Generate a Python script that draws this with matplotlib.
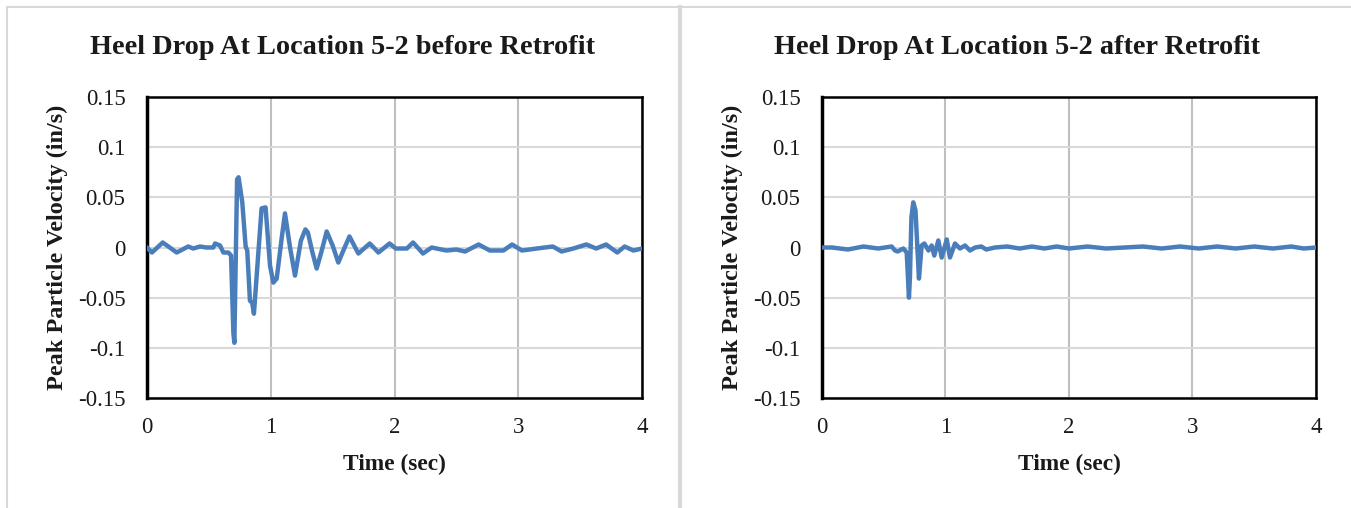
import matplotlib
matplotlib.use("Agg")
import matplotlib.pyplot as plt
from matplotlib.lines import Line2D

# ---------------- data ----------------
t_before = [0.00, 0.04, 0.127, 0.24, 0.333, 0.374, 0.428, 0.48, 0.536, 0.55, 0.59,
            0.617, 0.657, 0.679, 0.698, 0.706, 0.716, 0.728, 0.740, 0.770, 0.797, 0.81,
            0.832, 0.85, 0.864, 0.894, 0.926, 0.958, 0.994, 1.021, 1.048, 1.088, 1.115,
            1.156, 1.196, 1.244, 1.280, 1.30, 1.335, 1.371, 1.41, 1.452, 1.50, 1.546,
            1.59, 1.636, 1.708, 1.80, 1.87, 1.96, 2.01, 2.10, 2.15, 2.23, 2.30, 2.42,
            2.50, 2.57, 2.68, 2.77, 2.88, 2.95, 3.03, 3.15, 3.28, 3.35, 3.445, 3.55,
            3.63, 3.71, 3.80, 3.86, 3.93, 4.00]
v_before = [0.000, -0.005, 0.005, -0.005, 0.001, -0.001, 0.001, 0.000, 0.000, 0.004, 0.002,
            -0.005, -0.005, -0.008, -0.085, -0.095, -0.020, 0.068, 0.070, 0.045, 0.001, -0.003,
            -0.053, -0.055, -0.066, -0.015, 0.039, 0.040, -0.018, -0.035, -0.031, 0.009, 0.034,
            0.000, -0.028, 0.007, 0.018, 0.015, -0.004, -0.021, -0.004, 0.016, 0.002, -0.015,
            -0.002, 0.011, -0.006, 0.004, -0.005, 0.004, -0.001, -0.001, 0.005, -0.006, 0.000, -0.003,
            -0.002, -0.004, 0.003, -0.003, -0.003, 0.003, -0.003, -0.001, 0.001, -0.004, -0.001, 0.003,
            -0.001, 0.003, -0.005, 0.001, -0.003, -0.001]

t_after = [0.00, 0.08, 0.21, 0.335, 0.456, 0.564, 0.591, 0.613, 0.658, 0.686, 0.704,
           0.712, 0.724, 0.739, 0.757, 0.785, 0.807, 0.829, 0.862, 0.888, 0.909, 0.942,
           0.969, 1.010, 1.036, 1.077, 1.117, 1.158, 1.198, 1.24, 1.29, 1.33, 1.40,
           1.50, 1.60, 1.70, 1.80, 1.90, 2.00, 2.15, 2.30, 2.45, 2.60, 2.75, 2.90,
           3.05, 3.20, 3.35, 3.50, 3.65, 3.80, 3.90, 4.00]
v_after = [0.000, 0.000, -0.002, 0.001, -0.001, 0.001, -0.003, -0.004, -0.001, -0.005, -0.050,
           -0.030, 0.030, 0.045, 0.037, -0.031, 0.002, 0.004, -0.003, 0.002, -0.008, 0.007,
           -0.010, 0.008, -0.010, 0.004, -0.001, 0.002, -0.003, 0.000, 0.001, -0.002, 0.000,
           0.001, -0.001, 0.001, -0.001, 0.001, -0.001, 0.001, -0.001, 0.000, 0.001, -0.001, 0.001,
           -0.001, 0.001, -0.001, 0.001, -0.001, 0.001, -0.001, 0.000]

titles = ["Heel Drop At Location 5-2 before Retrofit",
          "Heel Drop At Location 5-2 after Retrofit"]
x_ticks = [0, 1, 2, 3, 4]
y_ticks = [-0.15, -0.1, -0.05, 0, 0.05, 0.1, 0.15]
y_tick_labels = ["-0.15", "-0.1", "-0.05", "0", "0.05", "0.1", "0.15"]
xlabel = "Time (sec)"
ylabel = "Peak Particle Velocity (in/s)"

# ---------------- figure ----------------
W, H = 1351, 508
fig = plt.figure(figsize=(W / 100, H / 100), dpi=100)
fig.patch.set_facecolor("white")

def px_x(x):
    return x / W

def px_y(y):
    return 1 - y / H

# panel borders
border = "#d9d9d9"
fig.add_artist(Line2D([px_x(7), px_x(7)], [0, px_y(7)], color=border, lw=1.5))
fig.add_artist(Line2D([px_x(7), 1], [px_y(7), px_y(7)], color=border, lw=1.5))
fig.add_artist(Line2D([px_x(680), px_x(680)], [0, px_y(7)], color=border, lw=3))

serif = ["Liberation Serif", "DejaVu Serif"]
txt = "#1a1a1a"

series = [(t_before, v_before), (t_after, v_after)]
lefts = [147, 822]
rights = [642, 1316]
top, bottom = 97, 398
title_centers = [343, 1017]

for i, (t, v) in enumerate(series):
    l, r = lefts[i], rights[i]
    ax = fig.add_axes([px_x(l), px_y(bottom), (r - l) / W, (bottom - top) / H])
    ax.plot(t, v, color="#4a7ebb", lw=3.2, solid_joinstyle="round",
            solid_capstyle="round", zorder=3)
    ax.set_xlim(0, 4)
    ax.set_ylim(-0.15, 0.15)
    ax.set_xticks(x_ticks)
    ax.set_yticks(y_ticks)
    ax.set_yticklabels(y_tick_labels)
    ax.tick_params(length=0)
    ax.tick_params(axis="x", pad=14)
    ax.tick_params(axis="y", pad=15.5)
    for lab in ax.get_xticklabels() + ax.get_yticklabels():
        lab.set_fontfamily(serif)
        lab.set_fontsize(16.5)
        lab.set_color(txt)
    ax.grid(True, axis="y", color="#d9d9d9", lw=1.5)
    ax.grid(True, axis="x", color="#bfbfbf", lw=1.5)
    ax.set_axisbelow(True)
    for name, sp in ax.spines.items():
        sp.set_color("black")
        sp.set_linewidth(1.8)
    ax.spines["left"].set_linewidth(2.5)
    ax.set_xlabel(xlabel, fontfamily=serif, fontweight="bold", fontsize=16.8,
                  color=txt, va="center")
    ax.xaxis.set_label_coords(0.5, (bottom - 464) / (bottom - top))
    ax.set_ylabel(ylabel, fontfamily=serif, fontweight="bold", fontsize=17.5,
                  color=txt, va="center")
    ax.yaxis.set_label_coords((57 - 147) / (r - l), 0.5)
    fig.text(px_x(title_centers[i]), px_y(47), titles[i], ha="center", va="center",
             fontfamily=serif, fontweight="bold", fontsize=20.3, color=txt)

fig.savefig("out.png", dpi=100, facecolor="white")
